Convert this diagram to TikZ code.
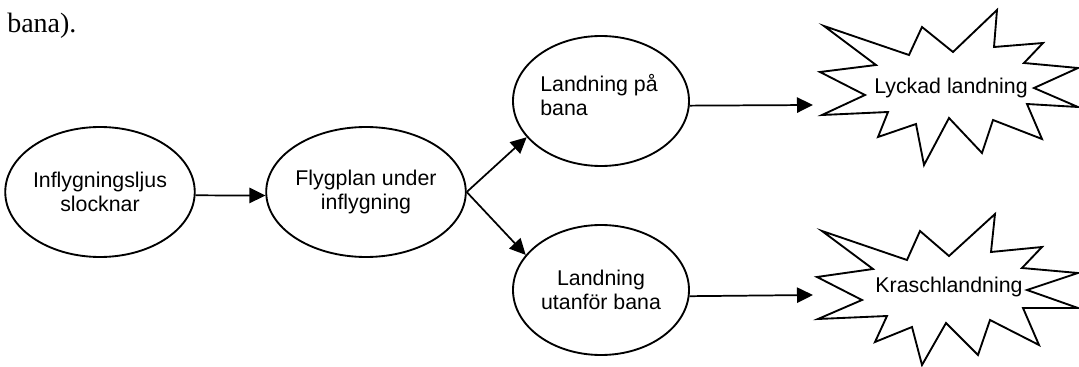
\documentclass[tikz,border=0pt]{standalone}
\usepackage{fontspec}
\setmainfont{Liberation Sans}
\newfontfamily\serifbody{Liberation Serif}
\usetikzlibrary{shapes.geometric,arrows.meta}
\begin{document}
\begin{tikzpicture}[x=0.75pt,y=-0.75pt,
  every node/.style={font=\fontsize{16}{18}\selectfont},
  event/.style={ellipse,draw,line width=1.4pt,minimum width=132pt,minimum height=97.5pt,inner sep=0pt,align=center},
  flow/.style={line width=1.3pt,-{Triangle[length=12pt,width=11.5pt]}},
  burst/.style={draw,line width=1.4pt,line join=miter,fill=white},
  caption/.style={inner sep=0pt,align=center}]
\useasboundingbox (0,0) rectangle (1079,367);

% end of the running text above the figure
\node[caption,anchor=base west,font=\serifbody\fontsize{21}{24}\selectfont] (prev) at (7,33) {bana).};

% events
\node[event] (e1) at (100,192) {Inflygningsljus\\slocknar};
\node[event] (e2) at (366,192) {Flygplan under\\inflygning};
\node[event] (e3) at (601,101) {};
\node[caption,align=left] (t3) at (599,95) {Landning på\\bana};
\node[event] (e4) at (601,290) {Landning\\utanför bana};

% outcomes as starbursts
\draw[burst] (824,26) -- (909,55) -- (922,27) -- (953,52) -- (997,10) -- (994,47)
  -- (1043,43) -- (1024,63) -- (1078,68) -- (1034,88) -- (1078,107) -- (1027,104)
  -- (1042,139) -- (993,120) -- (982,153) -- (949,118) -- (924,165) -- (916,124)
  -- (878,137) -- (888,112) -- (822,115) -- (865,95) -- (820,72) -- (876,65) -- cycle;
\node[caption] (s1) at (951,88) {Lyckad landning};

\draw[burst] (822,231) -- (907,260) -- (920,231) -- (949,256) -- (995,214) -- (991,252)
  -- (1042,247) -- (1022,268) -- (1078,273) -- (1027,290) -- (1078,308) -- (1023,308)
  -- (1039,345) -- (990,320) -- (978,355) -- (946,323) -- (922,365) -- (912,327)
  -- (875,342) -- (887,316) -- (818,319) -- (862,300) -- (817,277) -- (873,269) -- cycle;
\node[caption] (s2) at (949,287) {Kraschlandning};

\coordinate (s1in) at (813,105);
\coordinate (s2in) at (813,295);

% connectors
\draw[flow] (e1.-2.6) -- (e2.182.6);
\draw[flow] (e2.-0.5) -- (e3.206);
\draw[flow] (e2.-0.5) -- (e4.155);
\draw[flow] (e3.-3) -- (s1in);
\draw[flow] (e4.-4) -- (s2in);
\end{tikzpicture}
\end{document}
